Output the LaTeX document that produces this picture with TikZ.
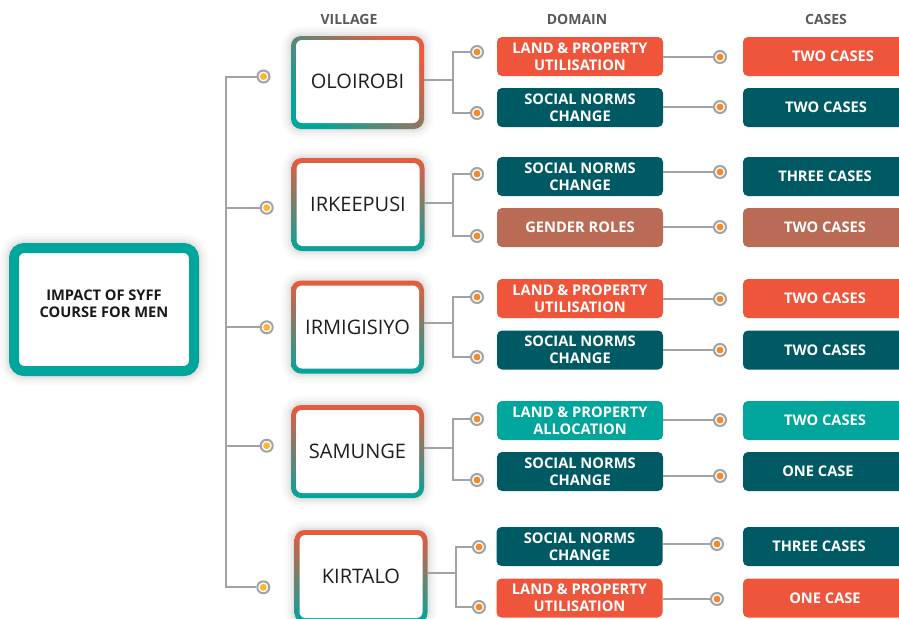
\documentclass[tikz,border=0pt]{standalone}
\usepackage{fontspec}
\setmainfont{Open Sans}
\definecolor{orng}{HTML}{EE553B}
\definecolor{dteal}{HTML}{005A63}
\definecolor{brwn}{HTML}{BA6B56}
\definecolor{teal2}{HTML}{00A59C}
\definecolor{lgray}{HTML}{A3A3A3}
\definecolor{hgray}{HTML}{5A5A5A}
\definecolor{dotor}{HTML}{F58A2B}
\definecolor{dotyl}{HTML}{FBB731}
\definecolor{vorng}{HTML}{EA5A3C}
\definecolor{vteal}{HTML}{00A59C}
\newcommand{\lsh}[2]{#2\hspace*{#1}}
\tikzset{
 conn/.style={draw=lgray, line width=1.5pt},
 dom/.style={rounded corners=3.75pt, minimum width=124.5pt, minimum height=29.25pt, inner sep=0pt, text=white, font=\bfseries\fontsize{11}{12.75}\selectfont, align=center},
 cas/.style={dom, minimum width=135pt},
 halo/.style={preaction={draw=black, draw opacity=0.02, line width=#1+14pt},
              preaction={draw=black, draw opacity=0.025, line width=#1+10pt},
              preaction={draw=black, draw opacity=0.03, line width=#1+6pt},
              preaction={draw=black, draw opacity=0.035, line width=#1+3pt}},
 vbg/.style={rounded corners=7.5pt, minimum width=99.75pt, minimum height=69.75pt, inner sep=0pt, halo=0pt},
 vorient/.style={top color=vorng, bottom color=vteal},
 vfg/.style={fill=white, rounded corners=4.5pt, minimum width=92.25pt, minimum height=62.25pt, inner sep=0pt, font=\fontsize{15}{18}\selectfont, text=black!88},
 jdot/.style={circle, draw=lgray, line width=1.5pt, fill=white, minimum size=9pt, inner sep=0pt, path picture={\fill[#1] (path picture bounding box.center) circle (2.6pt);}},
 hdr/.style={font=\bfseries\fontsize{10.5}{12}\selectfont, text=hgray},
 rootbox/.style={draw=teal2, line width=7.5pt, fill=white, rounded corners=7.5pt, minimum width=135pt, minimum height=92.25pt, inner sep=0pt, align=center, font=\bfseries\fontsize{11}{12.75}\selectfont, text=black!90, halo=7.5pt},
}
\begin{document}
\begin{tikzpicture}[x=0.75pt, y=-0.75pt]
\useasboundingbox[fill=white] (0,0) rectangle (899,618);

% headers
\node[hdr] (hv) at (349,19) {VILLAGE};
\node[hdr] (hd) at (577,19) {DOMAIN};
\node[hdr] (hc) at (826,19) {CASES};

% root
\node[rootbox] (root) at (104,309.5) {IMPACT OF SYFF\\COURSE FOR MEN\\[-4pt]\mbox{}};

% trunk circles
\node[jdot=dotyl] (t1) at (263.5,76.5) {};
\node[jdot=dotyl] (t2) at (266.7,207.7) {};
\node[jdot=dotyl] (t3) at (266.7,327.3) {};
\node[jdot=dotyl] (t4) at (266.7,445.7) {};
\node[jdot=dotyl] (t5) at (263.3,587.3) {};
\coordinate (tk2) at (225.5,207.7);
\coordinate (tk3) at (225.5,327.3);
\coordinate (tk4) at (225.5,445.7);
\coordinate (tk5) at (225.5,587.3);
\draw[conn] (t1) -| (tk5) -- (t5);
\draw[conn] (tk2) -- (t2);
\draw[conn] (tk3) -- (t3);
\draw[conn] (tk4) -- (t4);

% villages
\node[vbg, vorient, shading angle=-45] (v1b) at (357.5,82.5) {};
\node[vfg] (v1) at (357.5,81.5) {OLOIROBI};
\node[vbg, vorient] (v2b) at (358,204.5) {};
\node[vfg] (v2) at (358,204.5) {IRKEEPUSI};
\node[vbg, vorient] (v3b) at (357.5,327) {};
\node[vfg] (v3) at (357.5,327) {IRMIGISIYO};
\node[vbg, vorient] (v4b) at (357.5,451.5) {};
\node[vfg] (v4) at (357.5,451.5) {SAMUNGE};
\node[vbg, vorient] (v5b) at (361,576.5) {};
\node[vfg] (v5) at (361,576.5) {KIRTALO};

% domains
\node[dom, fill=orng]  (d1a) at (580,56.5)  {LAND \& PROPERTY\\UTILISATION};
\node[dom, fill=dteal] (d1b) at (580,107.5) {SOCIAL NORMS\\CHANGE};
\node[dom, fill=dteal] (d2a) at (580,176.5) {SOCIAL NORMS\\CHANGE};
\node[dom, fill=brwn]  (d2b) at (580,227.5) {GENDER ROLES};
\node[dom, fill=orng]  (d3a) at (580,298.5) {LAND \& PROPERTY\\UTILISATION};
\node[dom, fill=dteal] (d3b) at (580,350)   {SOCIAL NORMS\\CHANGE};
\node[dom, fill=teal2] (d4a) at (580,420.5) {LAND \& PROPERTY\\ALLOCATION};
\node[dom, fill=dteal] (d4b) at (580,471.5) {SOCIAL NORMS\\CHANGE};
\node[dom, fill=dteal] (d5a) at (579.5,546.5) {SOCIAL NORMS\\CHANGE};
\node[dom, fill=orng]  (d5b) at (579.5,598) {LAND \& PROPERTY\\UTILISATION};

% cases
\node[cas, fill=orng]  (c1a) at (833,56.5)  {TWO CASES};
\node[cas, fill=dteal] (c1b) at (833,107.5) {\lsh{10.5pt}{TWO CASES}};
\node[cas, fill=dteal] (c2a) at (833,176.5) {\lsh{12pt}{THREE CASES}};
\node[cas, fill=brwn]  (c2b) at (833,227.5) {\lsh{12pt}{TWO CASES}};
\node[cas, fill=orng]  (c3a) at (833,298.5) {\lsh{12pt}{TWO CASES}};
\node[cas, fill=dteal] (c3b) at (833,350)   {\lsh{12pt}{TWO CASES}};
\node[cas, fill=teal2] (c4a) at (833,420.5) {\lsh{12pt}{TWO CASES}};
\node[cas, fill=dteal] (c4b) at (833,471.5) {\lsh{22.5pt}{ONE CASE}};
\node[cas, fill=dteal] (c5a) at (833,546.5) {\lsh{21pt}{THREE CASES}};
\node[cas, fill=orng]  (c5b) at (833,598)   {\lsh{12pt}{ONE CASE}};

% village -> domain circles
\node[jdot=dotor] (p1a) at (477,52) {};
\node[jdot=dotor] (p1b) at (477,113) {};
\node[jdot=dotor] (p2a) at (477,174) {};
\node[jdot=dotor] (p2b) at (477,236) {};
\node[jdot=dotor] (p3a) at (477,297) {};
\node[jdot=dotor] (p3b) at (477,357) {};
\node[jdot=dotor] (p4a) at (477,419) {};
\node[jdot=dotor] (p4b) at (477,480) {};
\node[jdot=dotor] (p5a) at (479,547) {};
\node[jdot=dotor] (p5b) at (479,607) {};
\coordinate (j1) at (453,80);
\coordinate (j2) at (453,203);
\coordinate (j3) at (453,323);
\coordinate (j4) at (453,448);
\coordinate (j5) at (456,573);
\foreach \i in {1,...,5}{
  \draw[conn] (v\i b.east |- j\i) -- (j\i);
  \draw[conn] (p\i a) -| (j\i) |- (p\i b);
}

% domain -> case circles
\node[jdot=dotor] (q1a) at (720,57) {};
\node[jdot=dotor] (q1b) at (720,107) {};
\node[jdot=dotor] (q2a) at (720,172) {};
\node[jdot=dotor] (q2b) at (720,227) {};
\node[jdot=dotor] (q3a) at (720,299) {};
\node[jdot=dotor] (q3b) at (720,350) {};
\node[jdot=dotor] (q4a) at (720,420) {};
\node[jdot=dotor] (q4b) at (720,476) {};
\node[jdot=dotor] (q5a) at (717,544) {};
\node[jdot=dotor] (q5b) at (717,599) {};
\foreach \i in {1,...,5}{
  \draw[conn] (d\i a.east |- q\i a) -- (q\i a);
  \draw[conn] (d\i b.east |- q\i b) -- (q\i b);
}
\end{tikzpicture}
\end{document}
